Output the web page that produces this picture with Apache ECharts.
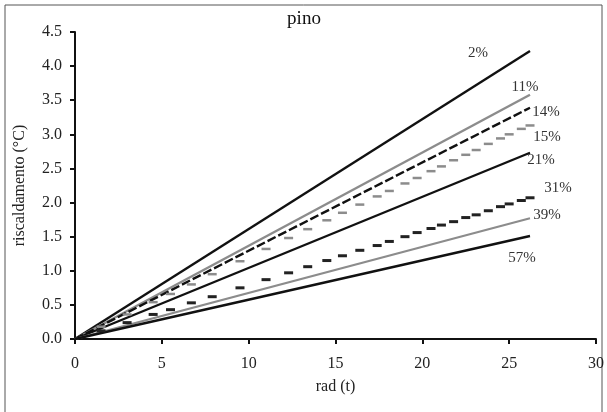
<!DOCTYPE html>
<html>
<head>
<meta charset="utf-8">
<script src="https://cdn.jsdelivr.net/npm/echarts@6/dist/echarts.min.js"></script>
<style>
  html, body { margin: 0; padding: 0; background: #fff; }
  #main { width: 607px; height: 412px; }
</style>
</head>
<body>
<div id="main"></div>
<script>
// straight lines: start and end of the rad range
var radEnds = [0, 26.2];
var s2  = [0, 4.22];
var s11 = [0, 3.58];
var s14 = [0, 3.39];
var s21 = [0, 2.73];
var s39 = [0, 1.77];
var s57 = [0, 1.51];

// points drawn as dash markers
var radPts = [1.5, 3.0, 4.5, 5.5, 6.7, 7.9, 9.5, 11.0, 12.3, 13.4, 14.5, 15.4, 16.4, 17.4,
  18.1, 19.0, 19.7, 20.5, 21.1, 21.8, 22.5, 23.1, 23.8, 24.5, 25.0, 25.7, 26.2];
var s15 = [0.18, 0.36, 0.54, 0.66, 0.80, 0.95, 1.14, 1.32, 1.48, 1.61, 1.74, 1.85, 1.97, 2.09,
  2.17, 2.28, 2.36, 2.46, 2.53, 2.62, 2.70, 2.77, 2.86, 2.94, 3.00, 3.08, 3.13];
var s31 = [0.12, 0.24, 0.36, 0.43, 0.53, 0.62, 0.75, 0.87, 0.97, 1.06, 1.15, 1.22, 1.30, 1.37,
  1.43, 1.50, 1.56, 1.62, 1.67, 1.72, 1.78, 1.82, 1.88, 1.94, 1.98, 2.03, 2.07];

var xTicks = [0, 5, 10, 15, 20, 25, 30];
var yTicks = ['0.0', '0.5', '1.0', '1.5', '2.0', '2.5', '3.0', '3.5', '4.0', '4.5'];

var serif = '"Liberation Serif", "DejaVu Serif", serif';

function pairs(xs, ys) {
  return xs.map(function (x, i) { return [x, ys[i]]; });
}

function endLab(name, off) {
  return {
    show: true, formatter: name, position: 'right', distance: 0,
    align: 'center', verticalAlign: 'middle', offset: off,
    fontFamily: serif, fontSize: 15, color: '#333'
  };
}

function solid(name, ys, color, width, type, off) {
  return {
    name: name, type: 'line', data: pairs(radEnds, ys),
    showSymbol: false, symbol: 'none', silent: true,
    lineStyle: { color: color, width: width, type: type },
    endLabel: endLab(name, off)
  };
}

function dashes(name, ys, color, h, off) {
  return {
    name: name, type: 'line', data: pairs(radPts, ys),
    symbol: 'rect', symbolSize: [9, h], showSymbol: true, silent: true,
    itemStyle: { color: color },
    lineStyle: { width: 0, opacity: 0 },
    endLabel: endLab(name, off)
  };
}

var chart = echarts.init(document.getElementById('main'));
var option = {
  animation: false,
  title: {
    text: 'pino', left: 299, top: 5, textAlign: 'center',
    textStyle: { fontFamily: serif, fontSize: 19, fontWeight: 'normal', color: '#111' }
  },
  graphic: [{
    type: 'rect', shape: { x: 5, y: 5, width: 597, height: 420 },
    style: { fill: 'none', stroke: '#555', lineWidth: 1 }, silent: true
  }],
  grid: { left: 75, right: 11, top: 32, bottom: 73 },
  xAxis: {
    type: 'value', min: 0, max: 30, interval: 5,
    name: 'rad (t)', nameLocation: 'middle', nameGap: 40,
    nameTextStyle: { fontFamily: serif, fontSize: 16, color: '#222' },
    axisLine: { lineStyle: { color: '#111', width: 2 } },
    axisTick: { show: true, length: 5, lineStyle: { color: '#111', width: 2 } },
    axisLabel: {
      margin: 17, fontFamily: serif, fontSize: 16, color: '#222',
      formatter: function (v) { return xTicks.indexOf(v) >= 0 ? String(v) : ''; }
    },
    splitLine: { show: false }
  },
  yAxis: {
    type: 'value', min: 0, max: 4.5, interval: 0.5,
    name: 'riscaldamento (°C)', nameLocation: 'middle', nameGap: 47, nameRotate: 90,
    nameTextStyle: { fontFamily: serif, fontSize: 16, color: '#222' },
    axisLine: { show: true, lineStyle: { color: '#111', width: 2 } },
    axisTick: { show: true, length: 5, lineStyle: { color: '#111', width: 2 } },
    axisLabel: {
      margin: 13, fontFamily: serif, fontSize: 16, color: '#222',
      formatter: function (v) { return yTicks[Math.round(v * 2)]; }
    },
    splitLine: { show: false }
  },
  series: [
    solid('2%', s2, '#111', 2.4, 'solid', [-52, 2]),
    solid('11%', s11, '#8c8c8c', 2.4, 'solid', [-5, -8]),
    solid('14%', s14, '#111', 2.4, [9, 3], [16, 4]),
    dashes('15%', s15, '#8c8c8c', 2.5, [17, 12]),
    solid('21%', s21, '#111', 2.4, 'solid', [11, 7]),
    dashes('31%', s31, '#222', 3, [28, -10]),
    solid('39%', s39, '#8c8c8c', 2.2, 'solid', [17, -3]),
    solid('57%', s57, '#111', 2.4, 'solid', [-8, 22])
  ]
};
chart.setOption(option);
</script>
</body>
</html>
